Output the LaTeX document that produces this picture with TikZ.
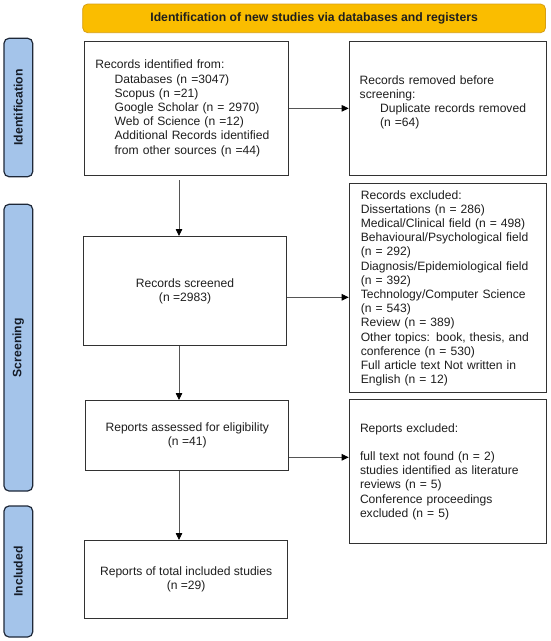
\documentclass[tikz,border=0pt]{standalone}
\usepackage{fontspec}
\setmainfont{Liberation Sans}
\usetikzlibrary{arrows.meta,calc}
\definecolor{bannerfill}{RGB}{250,189,0}
\definecolor{bannerline}{RGB}{214,158,20}
\definecolor{barfill}{RGB}{164,196,234}
\definecolor{barline}{RGB}{30,40,56}
\definecolor{boxline}{RGB}{50,50,50}
\definecolor{txt}{RGB}{30,30,30}
\definecolor{arrowgray}{RGB}{85,85,85}
\begin{document}
\begin{tikzpicture}[x=1pt,y=-1pt,
  box/.style={draw=boxline, line width=1pt, fill=white, text=txt, inner ysep=0pt,
    font=\fontsize{12.1}{14.2}\selectfont, anchor=north west},
  lbox/.style={box, align=left, inner xsep=11pt},
  cbox/.style={box, align=center, inner xsep=2pt},
  bar/.style={draw=barline, fill=barfill, line width=1.2pt, rounded corners=5pt,
    rotate=90, inner sep=0pt, text=barline!70!black,
    font=\bfseries\fontsize{12.2}{14}\selectfont, minimum height=28.7pt},
  banner/.style={draw=bannerline, fill=bannerfill, line width=0.8pt, rounded corners=5pt,
    inner sep=0pt, text=txt, font=\bfseries\fontsize{12.2}{14}\selectfont},
  arr/.style={draw=arrowgray, line width=0.8pt, -{Triangle[length=7pt,width=6.5pt,color=black]}}
]
\useasboundingbox (0,0) rectangle (550,641);

% banner
\node[banner, minimum width=462.8pt, minimum height=28.7pt] (banner) at (314.1,18.35)
  {Identification of new studies via databases and registers};

% side bars
\node[bar, minimum width=138.4pt] (barid) at (18.35,107.5) {Identification};
\node[bar, minimum width=286.7pt] (barsc) at (18.35,347.65) {Screening};
\node[bar, minimum width=131pt] (barin) at (18.35,571.5) {Included};

% left column
\node[lbox, inner xsep=10.5pt, text width=182.7pt, minimum height=133.7pt] (box1) at (84.3,41)
  {Records identified from:\\
   \hspace*{19.3pt}Databases (n =3047)\\
   \hspace*{19.3pt}Scopus (n =21)\\
   \hspace*{19.3pt}Google Scholar (n = 2970)\\
   \hspace*{19.3pt}Web of Science (n =12)\\
   \hspace*{19.3pt}Additional Records identified\\
   \hspace*{19.3pt}from other sources (n =44)};

\node[cbox, minimum width=202.9pt, minimum height=109.3pt] (box3) at (83.1,236)
  {Records screened\\(n =2983)};

\node[cbox, minimum width=203.1pt, minimum height=70.3pt] (box5) at (85.2,400)
  {Reports assessed for eligibility\\(n =41)};

\node[cbox, minimum width=202.7pt, minimum height=78pt] (box7) at (84.3,540)
  {Reports of total included studies\\(n =29)};

% right column
\node[lbox, inner xsep=10.5pt, text width=176.3pt, minimum height=133.7pt] (box2) at (348.7,41)
  {Records removed before\\
   screening:\\
   \hspace*{20.4pt}Duplicate records removed\\
   \hspace*{20.4pt}(n =64)\\
   \mbox{}};

\node[lbox, inner xsep=11.6pt, text width=174.1pt, minimum height=209pt] (box4) at (348.7,183.3)
  {Records excluded:\\
   Dissertations (n = 286)\\
   Medical/Clinical field (n = 498)\\
   Behavioural/Psychological field\\
   (n = 292)\\
   Diagnosis/Epidemiological field\\
   (n = 392)\\
   Technology/Computer Science\\
   (n = 543)\\
   Review (n = 389)\\
   Other topics: book, thesis, and\\
   conference (n = 530)\\
   Full article text Not written in\\
   English (n = 12)};

\node[lbox, inner xsep=10.8pt, text width=175.7pt, minimum height=143.4pt] (box6) at (348.7,399.3)
  {Reports excluded:\\
   \mbox{}\\
   full text not found (n = 2)\\
   studies identified as literature\\
   reviews (n = 5)\\
   Conference proceedings\\
   excluded (n = 5)};

% connectors
\coordinate (ax) at (179,0);
\coordinate (h2) at (0,297.3);
\coordinate (h3) at (0,457.3);
\draw[arr, shorten <=4.3pt] (box1.south -| ax) -- (box3.north -| ax);
\draw[arr] (box3.south -| ax) -- (box5.north -| ax);
\draw[arr] (box5.south -| ax) -- (box7.north -| ax);
\draw[arr] (box1.east) -- (box1.east -| box2.west);
\draw[arr] (box3.east |- h2) -- (box4.west |- h2);
\draw[arr] (box5.east |- h3) -- (box6.west |- h3);
\end{tikzpicture}
\end{document}
